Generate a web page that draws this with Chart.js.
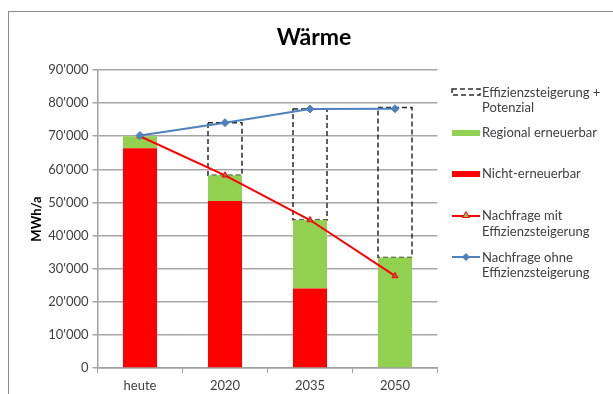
<!DOCTYPE html>
<html>
<head>
<meta charset="utf-8">
<title>Wärme</title>
<script src="https://cdn.jsdelivr.net/npm/chart.js@4/dist/chart.umd.min.js"></script>
<style>
  html, body { margin: 0; padding: 0; background: #fff; overflow: hidden; }
  #wrap { position: relative; width: 613px; height: 394px; }
  #frame { position: absolute; left: 8px; top: 11px; width: 700px; height: 500px;
           border: 1px solid #8c8c8c; box-sizing: border-box; }
  #c { position: absolute; left: 0; top: 0; }
</style>
</head>
<body>
<div id="wrap">
  <div id="frame"></div>
  <canvas id="c" width="613" height="394"></canvas>
</div>
<script>
// Heat demand by scenario year (MWh/a)
const categories = ['heute', '2020', '2035', '2050'];
const nichtErneuerbar = [66400, 50400, 24000, 0];
const regionalErneuerbar = [3600, 7800, 20700, 33400];
const effizienzPotenzial = [0, 15900, 33500, 45300];
const nachfrageMit = [70000, 58200, 44700, 27800];
const nachfrageOhne = [70200, 74100, 78200, 78300];

// Value axis
const yMin = 0;
const yMax = 90000;
const yStep = 10000;

const FONT = 'Lato, "Open Sans", sans-serif';
const TEXT = '#404040';

function swissThousands(v) {
  return String(v).replace(/\B(?=(\d{3})+(?!\d))/g, "'");
}

// Dashed outline for the efficiency/potential segment, drawn right after its
// (transparent) bars so the demand lines stay on top.
const dashedBoxes = {
  id: 'dashedBoxes',
  afterDatasetDraw(chart, args) {
    if (args.index !== 2) return;
    const ctx = chart.ctx;
    ctx.save();
    ctx.setLineDash([5, 3]);
    ctx.strokeStyle = '#2b2b2b';
    ctx.lineWidth = 1.5;
    args.meta.data.forEach((bar, i) => {
      if (!effizienzPotenzial[i]) return;
      const p = bar.getProps(['x', 'y', 'base', 'width'], true);
      ctx.strokeRect(p.x - p.width / 2, p.y, p.width, p.base - p.y);
    });
    ctx.restore();
  }
};

// Chart heading and the legend to the right of the plot
const headingAndLegend = {
  id: 'headingAndLegend',
  afterDraw(chart) {
    const ctx = chart.ctx;
    ctx.save();
    ctx.fillStyle = '#000';
    ctx.font = 'bold 23px ' + FONT;
    ctx.textAlign = 'center';
    ctx.textBaseline = 'middle';
    ctx.fillText('Wärme', 314, 38);

    const ix = 452, iw = 28, tx = 482;
    ctx.font = '13px ' + FONT;
    ctx.textAlign = 'left';
    ctx.fillStyle = TEXT;

    // dashed box swatch
    ctx.save();
    ctx.setLineDash([5, 3]);
    ctx.strokeStyle = '#2b2b2b';
    ctx.lineWidth = 1.5;
    ctx.strokeRect(ix, 89, iw, 6);
    ctx.restore();
    ctx.fillText('Effizienzsteigerung +', tx, 93);
    ctx.fillText('Potenzial', tx, 108);

    ctx.fillStyle = '#92D050';
    ctx.fillRect(ix, 130, iw, 6);
    ctx.fillStyle = TEXT;
    ctx.fillText('Regional erneuerbar', tx, 133);

    ctx.fillStyle = '#FF0000';
    ctx.fillRect(ix, 171, iw, 6);
    ctx.fillStyle = TEXT;
    ctx.fillText('Nicht-erneuerbar', tx, 174);

    // red demand line with triangle marker
    const cx = ix + iw / 2;
    ctx.strokeStyle = '#FF0000';
    ctx.lineWidth = 2;
    ctx.beginPath(); ctx.moveTo(ix, 216); ctx.lineTo(ix + iw, 216); ctx.stroke();
    ctx.fillStyle = '#9BBB59';
    ctx.lineWidth = 1;
    ctx.beginPath();
    ctx.moveTo(cx, 211.5); ctx.lineTo(cx + 3.5, 217.5); ctx.lineTo(cx - 3.5, 217.5);
    ctx.closePath(); ctx.fill(); ctx.stroke();
    ctx.fillStyle = TEXT;
    ctx.fillText('Nachfrage mit', tx, 216);
    ctx.fillText('Effizienzsteigerung', tx, 232);

    // blue demand line with diamond marker
    ctx.strokeStyle = '#4F81BD';
    ctx.lineWidth = 2;
    ctx.beginPath(); ctx.moveTo(ix, 257); ctx.lineTo(ix + iw, 257); ctx.stroke();
    ctx.fillStyle = '#4F81BD';
    ctx.beginPath();
    ctx.moveTo(cx, 253); ctx.lineTo(cx + 4, 257); ctx.lineTo(cx, 261); ctx.lineTo(cx - 4, 257);
    ctx.closePath(); ctx.fill();
    ctx.fillStyle = TEXT;
    ctx.fillText('Nachfrage ohne', tx, 258);
    ctx.fillText('Effizienzsteigerung', tx, 273);
    ctx.restore();
  }
};

new Chart(document.getElementById('c'), {
  data: {
    labels: categories,
    datasets: [
      {
        type: 'bar', label: 'Nicht-erneuerbar', data: nichtErneuerbar,
        backgroundColor: '#FF0000', stack: 'mix', order: 2,
        barPercentage: 0.8, categoryPercentage: 0.5
      },
      {
        type: 'bar', label: 'Regional erneuerbar', data: regionalErneuerbar,
        backgroundColor: '#92D050', stack: 'mix', order: 2,
        barPercentage: 0.8, categoryPercentage: 0.5
      },
      {
        type: 'bar', label: 'Effizienzsteigerung + Potenzial', data: effizienzPotenzial,
        backgroundColor: 'rgba(0,0,0,0)', stack: 'mix', order: 2,
        barPercentage: 0.8, categoryPercentage: 0.5
      },
      {
        type: 'line', label: 'Nachfrage mit Effizienzsteigerung', data: nachfrageMit,
        borderColor: '#FF0000', borderWidth: 2, stack: 'mit', order: 1,
        pointStyle: 'triangle', pointRadius: 3.5, pointBackgroundColor: '#C0504D',
        pointBorderColor: '#FF0000', pointBorderWidth: 1, tension: 0
      },
      {
        type: 'line', label: 'Nachfrage ohne Effizienzsteigerung', data: nachfrageOhne,
        borderColor: '#4F81BD', borderWidth: 2, stack: 'ohne', order: 0,
        pointStyle: 'rectRot', pointRadius: 4, pointBackgroundColor: '#4F81BD',
        pointBorderColor: '#4F81BD', pointBorderWidth: 1, tension: 0
      }
    ]
  },
  options: {
    responsive: false,
    animation: false,
    layout: { padding: { left: 0, top: 70, right: 175.5, bottom: 0 } },
    plugins: {
      legend: { display: false },
      title: { display: false },
      tooltip: { enabled: false }
    },
    scales: {
      x: {
        stacked: true,
        grid: { drawOnChartArea: false, drawTicks: true, tickLength: 5, color: '#a0a0a0', offset: true },
        border: { color: '#a0a0a0', width: 1.5 },
        ticks: { color: TEXT, font: { family: FONT, size: 13 }, padding: 5, maxRotation: 0 },
        afterFit(scale) { scale.height = 26; }
      },
      y: {
        stacked: true,
        min: yMin, max: yMax,
        grid: { color: '#a6a6a6', lineWidth: 1.5, tickLength: 5 },
        border: { color: '#a0a0a0', width: 1.5 },
        ticks: {
          stepSize: yStep, color: TEXT, padding: 4,
          font: { family: FONT, size: 13 },
          callback: (v) => swissThousands(v)
        },
        title: {
          display: true, text: 'MWh/a', color: '#000',
          font: { family: FONT, size: 13, weight: 'bold' },
          padding: { top: 29, bottom: 0 }
        },
        afterFit(scale) { scale.width = 97.5; }
      }
    }
  },
  plugins: [dashedBoxes, headingAndLegend]
});
</script>
</body>
</html>
